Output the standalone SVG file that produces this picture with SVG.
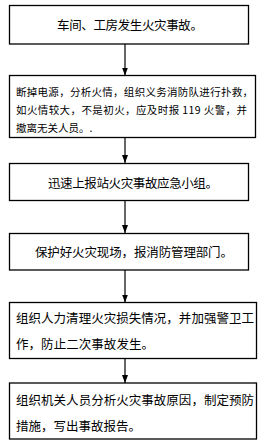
<svg xmlns="http://www.w3.org/2000/svg" width="271" height="447" viewBox="0 0 271 447">
<style>
.box{fill:#fff;stroke:#000;stroke-width:1.3}
.t{font-family:"Noto Sans CJK SC","Noto Sans",sans-serif;fill:#000;dominant-baseline:central}
.t12{font-size:12.5px}
.t10{font-size:10.5px}
.ln{stroke:#000;stroke-width:1.2;fill:none}
</style>
<defs>
<marker id="ah" viewBox="0 0 8 6" refX="8" refY="3" markerWidth="8" markerHeight="6" markerUnits="userSpaceOnUse" orient="auto">
<path d="M0,0 L8,3 L0,6 Z" fill="#000"/>
</marker>
</defs>
<rect width="271" height="447" fill="#fff"/>
<g id="connectors">
<line class="ln" x1="125" y1="44" x2="125" y2="75.5" marker-end="url(#ah)"/>
<line class="ln" x1="125" y1="137.5" x2="125" y2="163" marker-end="url(#ah)"/>
<line class="ln" x1="125" y1="200.5" x2="125" y2="233" marker-end="url(#ah)"/>
<line class="ln" x1="125" y1="270" x2="125" y2="302.5" marker-end="url(#ah)"/>
<line class="ln" x1="125" y1="358.5" x2="125" y2="383" marker-end="url(#ah)"/>
</g>
<g id="n1">
<rect class="box" x="9.5" y="5.5" width="239" height="38.5"/>
<text class="t t12" x="57" y="24" textLength="146" lengthAdjust="spacing">车间、工房发生火灾事故。</text>
</g>
<g id="n2">
<rect class="box" x="9.5" y="75.5" width="246" height="62"/>
<text class="t t10" x="16" y="91" textLength="237" lengthAdjust="spacing">断掉电源，分析火情，组织义务消防队进行扑救，</text>
<text class="t t10" x="16" y="109" textLength="231" lengthAdjust="spacing">如火情较大，不是初火，应及时报 119 火警，并</text>
<text class="t t10" x="16" y="127">撤离无关人员。.</text>
</g>
<g id="n3">
<rect class="box" x="9.5" y="163.5" width="239" height="37"/>
<text class="t t12" x="48" y="182" textLength="170" lengthAdjust="spacing">迅速上报站火灾事故应急小组。</text>
</g>
<g id="n4">
<rect class="box" x="9.5" y="233.5" width="239" height="36.5"/>
<text class="t t12" x="35" y="251" textLength="198" lengthAdjust="spacing">保护好火灾现场，报消防管理部门。</text>
</g>
<g id="n5">
<rect class="box" x="9.5" y="302.5" width="247" height="56"/>
<text class="t t12" x="16" y="317" textLength="238" lengthAdjust="spacing">组织人力清理火灾损失情况，并加强警卫工</text>
<text class="t t12" x="16" y="343" textLength="138" lengthAdjust="spacing">作，防止二次事故发生。</text>
</g>
<g id="n6">
<rect class="box" x="9.5" y="383" width="247" height="56"/>
<text class="t t12" x="16" y="399" textLength="238" lengthAdjust="spacing">组织机关人员分析火灾事故原因，制定预防</text>
<text class="t t12" x="16" y="425" textLength="125" lengthAdjust="spacing">措施，写出事故报告。</text>
</g>
</svg>
